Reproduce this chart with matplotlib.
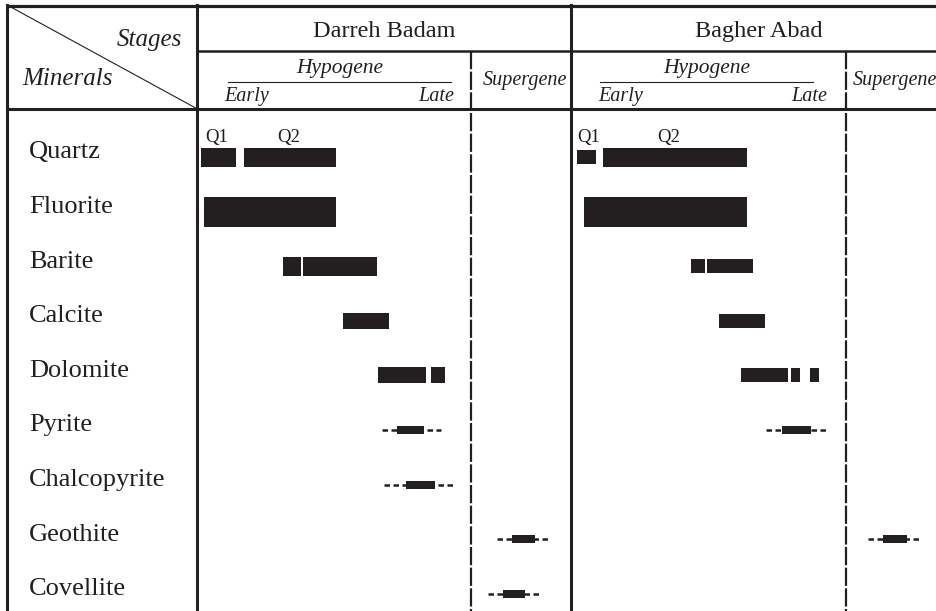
import matplotlib
matplotlib.use("Agg")
import matplotlib.pyplot as plt

plt.rcParams["font.family"] = ["Liberation Serif", "DejaVu Serif"]

INK = "#231f20"
W, H = 937, 611

minerals = ["Quartz", "Fluorite", "Barite", "Calcite", "Dolomite",
            "Pyrite", "Chalcopyrite", "Geothite", "Covellite"]

# solid bars: (mineral, start, end, abundance level 1-5), stage scale 0-100 (early -> late)
darreh_hypo_bars = [
    ("Quartz", 1.1, 13.8, 4), ("Quartz", 16.7, 50.5, 4),
    ("Fluorite", 2.2, 50.5, 5),
    ("Barite", 30.9, 37.5, 4), ("Barite", 38.5, 65.5, 4),
    ("Calcite", 53.1, 69.8, 3),
    ("Dolomite", 65.8, 83.3, 3), ("Dolomite", 85.1, 90.2, 3),
]
bagher_hypo_bars = [
    ("Quartz", 1.8, 8.7, 2), ("Quartz", 11.3, 63.6, 4),
    ("Fluorite", 4.4, 63.6, 5),
    ("Barite", 43.3, 48.4, 2), ("Barite", 49.1, 65.8, 2),
    ("Calcite", 53.5, 70.2, 2),
    ("Dolomite", 61.5, 78.5, 2), ("Dolomite", 79.6, 82.9, 2), ("Dolomite", 86.5, 89.8, 2),
]

# trace minerals: (mineral, dashed start, dashed end, bar start, bar end)
darreh_hypo_traces = [
    ("Pyrite", 67.3, 88.7, 72.7, 82.5),
    ("Chalcopyrite", 68.0, 94.2, 76.0, 86.5),
]
bagher_hypo_traces = [
    ("Pyrite", 70.5, 92.4, 76.4, 86.9),
]
darreh_super_traces = [
    ("Geothite", 25, 79, 40, 63),
    ("Covellite", 16, 68, 31, 53),
]
bagher_super_traces = [
    ("Geothite", 21, 75, 36, 60),
]

# quartz generation tags: (label, position on stage scale)
darreh_quartz_tags = [("Q1", 2.5), ("Q2", 29.1)]
bagher_quartz_tags = [("Q1", 1.8), ("Q2", 30.9)]

# bar heights in pixels per abundance level
level_px = {1: 8, 2: 14, 3: 16, 4: 19, 5: 30}

ROW0, ROW_STEP = 157.0, 54.6
TABLE_TOP = 109


def px_axes(fig, x0, x1):
    # axes over the mineral rows, x: 0-100 stage scale, y: row index
    ax = fig.add_axes([x0 / W, 0, (x1 - x0) / W, (H - TABLE_TOP) / H])
    ax.set_xlim(0, 100)
    ax.set_ylim(8 + (H - (ROW0 + 8 * ROW_STEP)) / ROW_STEP,
                -(ROW0 - TABLE_TOP) / ROW_STEP)
    ax.axis("off")
    return ax


def draw_bars(ax, bars):
    for name, a, b, lvl in bars:
        ax.barh(minerals.index(name), b - a, left=a,
                height=level_px[lvl] / ROW_STEP, color=INK, linewidth=0)


def draw_traces(ax, traces):
    for name, da, db, a, b in traces:
        y = minerals.index(name)
        ax.plot([da, db], [y, y], color=INK, lw=1.8, dashes=(2.2, 1.4),
                solid_capstyle="butt", dash_capstyle="butt")
        ax.barh(y, b - a, left=a, height=level_px[1] / ROW_STEP,
                color=INK, linewidth=0)


def draw_tags(ax, tags):
    for lab, x in tags:
        ax.text(x, -(ROW0 - 142) / ROW_STEP, lab, fontsize=13.5,
                color=INK, ha="left", va="baseline")


fig = plt.figure(figsize=(W / 100, H / 100), dpi=100)
ax = fig.add_axes([0, 0, 1, 1])
ax.set_xlim(0, W)
ax.set_ylim(H, 0)
ax.axis("off")

# table frame
ax.plot([7.5, W], [5.5, 5.5], color=INK, lw=2.3, solid_capstyle="butt")
ax.plot([7.5, 7.5], [5, H], color=INK, lw=2.2)
ax.plot([197.5, W], [50.5, 50.5], color=INK, lw=1.8)
ax.plot([7.5, W], [109, 109], color=INK, lw=2.2)
ax.plot([197.5, 197.5], [5, H], color=INK, lw=2.2)
ax.plot([571.5, 571.5], [5, H], color=INK, lw=2.2)
for x in (471.5, 846.5):
    ax.plot([x, x], [50.5, H], color=INK, lw=1.6, dashes=(8.2, 1.1),
            dash_capstyle="butt")
ax.plot([8, 197.5], [5.5, 109], color=INK, lw=0.8)

# header text
ax.text(182, 46, "Stages", fontsize=18, style="italic", color=INK, ha="right", va="baseline")
ax.text(22, 85, "Minerals", fontsize=18, style="italic", color=INK, ha="left", va="baseline")
ax.text(384, 37, "Darreh Badam", fontsize=17.5, color=INK, ha="center", va="baseline")
ax.text(759, 37, "Bagher Abad", fontsize=17.5, color=INK, ha="center", va="baseline")
for cx, l0, l1, e0, e1 in [(339.5, 228, 451, 224, 454), (706.5, 600, 813, 598, 827)]:
    ax.text(cx, 73, "Hypogene", fontsize=15.5, style="italic", color=INK, ha="center", va="baseline")
    ax.plot([l0, l1], [82, 82], color=INK, lw=0.8)
    ax.text(e0, 101, "Early", fontsize=14.5, style="italic", color=INK, ha="left", va="baseline")
    ax.text(e1, 101, "Late", fontsize=14.5, style="italic", color=INK, ha="right", va="baseline")
ax.text(524.5, 85, "Supergene", fontsize=14.5, style="italic", color=INK, ha="center", va="baseline")
ax.text(853, 85, "Supergene", fontsize=14.5, style="italic", color=INK, ha="left", va="baseline")

# mineral names
lab_ax = px_axes(fig, 8, 197)
for i, m in enumerate(minerals):
    lab_ax.text(11, i + 1.5 / ROW_STEP, m, fontsize=19, color=INK,
                ha="left", va="baseline")

# Darreh Badam
ax_db_h = px_axes(fig, 198, 472)
draw_bars(ax_db_h, darreh_hypo_bars)
draw_traces(ax_db_h, darreh_hypo_traces)
draw_tags(ax_db_h, darreh_quartz_tags)
ax_db_s = px_axes(fig, 472, 572)
draw_traces(ax_db_s, darreh_super_traces)

# Bagher Abad
ax_ba_h = px_axes(fig, 572, 847)
draw_bars(ax_ba_h, bagher_hypo_bars)
draw_traces(ax_ba_h, bagher_hypo_traces)
draw_tags(ax_ba_h, bagher_quartz_tags)
ax_ba_s = px_axes(fig, 847, 947)
draw_traces(ax_ba_s, bagher_super_traces)

fig.savefig("out.png", dpi=100)
